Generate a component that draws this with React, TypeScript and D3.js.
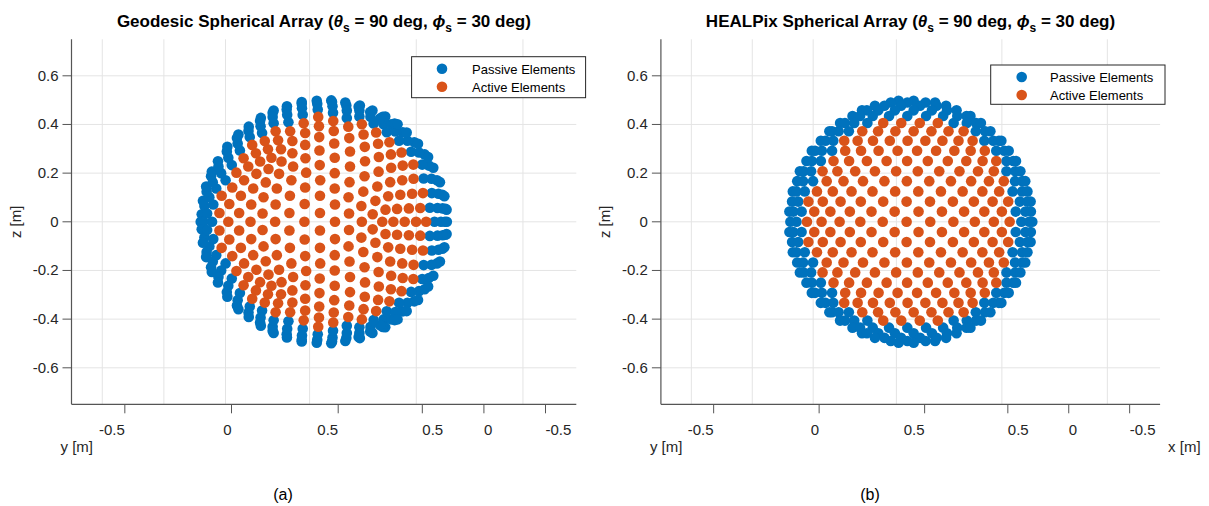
import * as d3 from 'd3'

// axis setup (MATLAB 3-D view, azimuth 30 deg along phi_s, elevation 0)
const zTicks = [-0.6, -0.4, -0.2, 0, 0.2, 0.4, 0.6]
const yTicks = [-0.5, 0, 0.5]
const xTicks = [-0.5, 0, 0.5]
const axisLimit = 0.75
const viewAzimuthDeg = 30

// HEALPix rings: z [m], then projected horizontal offsets [m] of the visible elements
const healpixRingZ = [
  0.497, 0.49, 0.477, 0.458, 0.435, 0.406, 0.372, 0.333, 0.292, 0.25, 0.208, 0.167, 0.125, 0.083, 0.042, 0,
  -0.042, -0.083, -0.125, -0.167, -0.208, -0.25, -0.292, -0.333, -0.372, -0.406, -0.435, -0.458, -0.477, -0.49, -0.497,
]
const healpixActiveH = [
  [], [], [], [], [],
  [-0.112, -0.038, 0.038, 0.112],
  [-0.198, -0.133, -0.062, 0.013, 0.086, 0.156, 0.218],
  [-0.272, -0.217, -0.154, -0.085, -0.012, 0.061, 0.131, 0.197, 0.255],
  [-0.268, -0.203, -0.131, -0.053, 0.027, 0.105, 0.18, 0.247, 0.305],
  [-0.316, -0.252, -0.179, -0.098, -0.014, 0.071, 0.153, 0.229, 0.296, 0.352],
  [-0.361, -0.3, -0.227, -0.146, -0.059, 0.03, 0.118, 0.201, 0.277, 0.342],
  [-0.344, -0.275, -0.195, -0.107, -0.015, 0.077, 0.166, 0.249, 0.322, 0.383],
  [-0.384, -0.319, -0.242, -0.156, -0.063, 0.032, 0.125, 0.214, 0.295, 0.364],
  [-0.419, -0.36, -0.287, -0.204, -0.112, -0.016, 0.08, 0.174, 0.26, 0.337, 0.401],
  [-0.395, -0.329, -0.249, -0.16, -0.065, 0.033, 0.129, 0.22, 0.303, 0.375],
  [-0.425, -0.365, -0.291, -0.206, -0.114, -0.016, 0.081, 0.176, 0.264, 0.342, 0.407],
  [-0.395, -0.329, -0.249, -0.16, -0.065, 0.033, 0.129, 0.22, 0.303, 0.375],
  [-0.419, -0.36, -0.287, -0.204, -0.112, -0.016, 0.08, 0.174, 0.26, 0.337, 0.401],
  [-0.384, -0.319, -0.242, -0.156, -0.063, 0.032, 0.125, 0.214, 0.295, 0.364],
  [-0.344, -0.275, -0.195, -0.107, -0.015, 0.077, 0.166, 0.249, 0.322, 0.383],
  [-0.361, -0.3, -0.227, -0.146, -0.059, 0.03, 0.118, 0.201, 0.277, 0.342],
  [-0.316, -0.252, -0.179, -0.098, -0.014, 0.071, 0.153, 0.229, 0.296, 0.352],
  [-0.268, -0.203, -0.131, -0.053, 0.027, 0.105, 0.18, 0.247, 0.305],
  [-0.272, -0.217, -0.154, -0.085, -0.012, 0.061, 0.131, 0.197, 0.255],
  [-0.198, -0.133, -0.062, 0.013, 0.086, 0.156, 0.218],
  [-0.112, -0.038, 0.038, 0.112],
  [], [], [], [], [],
]
const healpixPassiveH = [
  [-0.049, 0.013],
  [-0.081, -0.013, 0.062, 0.101],
  [-0.146, -0.107, -0.039, 0.039, 0.107, 0.146],
  [-0.199, -0.179, -0.132, -0.064, 0.013, 0.088, 0.15, 0.189],
  [-0.238, -0.207, -0.155, -0.088, -0.013, 0.064, 0.134, 0.192, 0.23, 0.246],
  [-0.289, -0.269, -0.231, -0.177, 0.177, 0.231, 0.269, 0.289],
  [-0.333, -0.322, -0.295, -0.253, 0.268, 0.306, 0.328],
  [-0.368, -0.349, -0.317, 0.303, 0.34, 0.363, 0.373],
  [-0.405, -0.392, -0.364, -0.322, 0.352, 0.385, 0.403],
  [-0.427, -0.405, -0.368, 0.394, 0.422, 0.433],
  [-0.454, -0.439, -0.408, 0.394, 0.43, 0.451],
  [-0.465, -0.441, -0.4, 0.429, 0.459, 0.471],
  [-0.483, -0.468, -0.434, 0.419, 0.458, 0.48],
  [-0.486, -0.461, 0.449, 0.48, 0.493],
  [-0.497, -0.481, -0.447, 0.432, 0.472, 0.494],
  [-0.493, -0.468, 0.455, 0.487, 0.5],
  [-0.497, -0.481, -0.447, 0.432, 0.472, 0.494],
  [-0.486, -0.461, 0.449, 0.48, 0.493],
  [-0.483, -0.468, -0.434, 0.419, 0.458, 0.48],
  [-0.465, -0.441, -0.4, 0.429, 0.459, 0.471],
  [-0.454, -0.439, -0.408, 0.394, 0.43, 0.451],
  [-0.427, -0.405, -0.368, 0.394, 0.422, 0.433],
  [-0.405, -0.392, -0.364, -0.322, 0.352, 0.385, 0.403],
  [-0.368, -0.349, -0.317, 0.303, 0.34, 0.363, 0.373],
  [-0.333, -0.322, -0.295, -0.253, 0.268, 0.306, 0.328],
  [-0.289, -0.269, -0.231, -0.177, 0.177, 0.231, 0.269, 0.289],
  [-0.238, -0.207, -0.155, -0.088, -0.013, 0.064, 0.134, 0.192, 0.23, 0.246],
  [-0.199, -0.179, -0.132, -0.064, 0.013, 0.088, 0.15, 0.189],
  [-0.146, -0.107, -0.039, 0.039, 0.107, 0.146],
  [-0.081, -0.013, 0.062, 0.101],
  [-0.049, 0.013],
]

// geodesic array: visible elements as [h, z] in metres (h = horizontal offset in the view plane)
const geodesicActive: [number, number][] = [
  // upper half
  [0.266, 0.327], [0.272, 0.277], [0.273, 0.222], [0.269, 0.163], [0.261, 0.105], [0.25, 0.05],
  [0.038, 0.414], [-0.02, 0.393], [-0.076, 0.365], [-0.128, 0.332], [-0.174, 0.298],
  [-0.172, 0.248], [-0.125, 0.227], [-0.072, 0.202], [-0.015, 0.171], [0.044, 0.137], [0.1, 0.101], [0.152, 0.065], [0.198, 0.031],
  [-0.355, 0.202], [-0.307, 0.227], [-0.259, 0.248], [-0.227, 0.298], [-0.24, 0.332],
  [-0.225, 0.217], [-0.236, 0.162], [-0.245, 0.101], [-0.249, 0.034], [-0.213, 0.263],
  [0.402, 0.118], [0.391, 0.057], [0.363, 0.235], [0.364, 0.177], [0.358, 0.115], [0.345, 0.055],
  [0.315, 0.285], [0.32, 0.231], [0.318, 0.171], [0.31, 0.111], [0.297, 0.053],
  [0.209, 0.086], [0.217, 0.145], [0.16, 0.124], [0.222, 0.206], [0.165, 0.187], [0.104, 0.163], [0.223, 0.266],
  [0.167, 0.249], [0.106, 0.227], [0.044, 0.2], [0.22, 0.321], [0.166, 0.308], [0.106, 0.289], [0.044, 0.263],
  [-0.017, 0.233], [0.212, 0.367], [0.161, 0.359], [0.103, 0.344], [0.042, 0.322], [-0.018, 0.293], [-0.075, 0.261],
  [0.154, 0.401], [0.099, 0.391], [0.04, 0.373], [-0.019, 0.348], [-0.076, 0.316], [-0.128, 0.282],
  [-0.196, 0.372], [-0.186, 0.335], [-0.137, 0.372], [-0.082, 0.405], [-0.023, 0.431],
  [-0.326, 0.261], [-0.276, 0.282], [-0.291, 0.316],
  [-0.182, 0.197], [-0.191, 0.137], [-0.132, 0.171], [-0.196, 0.071], [-0.138, 0.107], [-0.076, 0.141],
  [-0.14, 0.036], [-0.078, 0.073], [-0.016, 0.107], [-0.016, 0.036], [0.045, 0.071], [0.102, 0.034],
  [-0.415, 0.107], [-0.424, 0.036], [-0.372, 0.141], [-0.384, 0.073], [-0.324, 0.171], [-0.337, 0.107],
  [-0.344, 0.036], [-0.274, 0.197], [-0.287, 0.137], [-0.295, 0.071],
  // equator
  [0.237, 0], [0.282, 0], [0.328, 0], [0.374, 0], [0.415, 0], [-0.198, 0], [-0.079, 0], [0.045, 0], [0.154, 0],
  [-0.388, 0], [-0.298, 0],
  // lower half
  [0.266, -0.327], [0.272, -0.277], [0.273, -0.222], [0.269, -0.163], [0.261, -0.105], [0.25, -0.05],
  [0.038, -0.414], [-0.02, -0.393], [-0.076, -0.365], [-0.128, -0.332], [-0.174, -0.298],
  [-0.172, -0.248], [-0.125, -0.227], [-0.072, -0.202], [-0.015, -0.171], [0.044, -0.137], [0.1, -0.101], [0.152, -0.065], [0.198, -0.031],
  [-0.355, -0.202], [-0.307, -0.227], [-0.259, -0.248], [-0.227, -0.298], [-0.24, -0.332],
  [-0.225, -0.217], [-0.236, -0.162], [-0.245, -0.101], [-0.249, -0.034], [-0.213, -0.263],
  [0.402, -0.118], [0.391, -0.057], [0.363, -0.235], [0.364, -0.177], [0.358, -0.115], [0.345, -0.055],
  [0.315, -0.285], [0.32, -0.231], [0.318, -0.171], [0.31, -0.111], [0.297, -0.053],
  [0.209, -0.086], [0.217, -0.145], [0.16, -0.124], [0.222, -0.206], [0.165, -0.187], [0.104, -0.163], [0.223, -0.266],
  [0.167, -0.249], [0.106, -0.227], [0.044, -0.2], [0.22, -0.321], [0.166, -0.308], [0.106, -0.289], [0.044, -0.263],
  [-0.017, -0.233], [0.212, -0.367], [0.161, -0.359], [0.103, -0.344], [0.042, -0.322], [-0.018, -0.293], [-0.075, -0.261],
  [0.154, -0.401], [0.099, -0.391], [0.04, -0.373], [-0.019, -0.348], [-0.076, -0.316], [-0.128, -0.282],
  [-0.196, -0.372], [-0.186, -0.335], [-0.137, -0.372], [-0.082, -0.405], [-0.023, -0.431],
  [-0.326, -0.261], [-0.276, -0.282], [-0.291, -0.316],
  [-0.182, -0.197], [-0.191, -0.137], [-0.132, -0.171], [-0.196, -0.071], [-0.138, -0.107], [-0.076, -0.141],
  [-0.14, -0.036], [-0.078, -0.073], [-0.016, -0.107], [-0.016, -0.036], [0.045, -0.071], [0.102, -0.034],
  [-0.415, -0.107], [-0.424, -0.036], [-0.372, -0.141], [-0.384, -0.073], [-0.324, -0.171], [-0.337, -0.107],
  [-0.344, -0.036], [-0.274, -0.197], [-0.287, -0.137], [-0.295, -0.071],
]
const geodesicPassive: [number, number][] = [
  // upper half
  [0.242, 0.401], [0.255, 0.368], [0.189, 0.432], [0.144, 0.433], [0.093, 0.427],
  [0.273, 0.401], [0.32, 0.368], [0.367, 0.327], [0.409, 0.277], [0.444, 0.222], [0.471, 0.163], [0.489, 0.105], [0.498, 0.05],
  [0.03, 0.499], [0.087, 0.49], [0.141, 0.473], [0.188, 0.451], [0.249, 0.433], [0.239, 0.432],
  [-0.496, 0.031], [-0.485, 0.065], [-0.465, 0.101], [-0.437, 0.137], [-0.399, 0.171],
  [-0.251, 0.365], [-0.257, 0.393], [-0.259, 0.414], [-0.256, 0.427], [0.228, 0.425],
  [0.494, 0.053], [0.481, 0.111], [0.482, 0.055], [0.459, 0.171], [0.465, 0.115], [0.461, 0.057], [0.426, 0.231],
  [0.437, 0.177], [0.438, 0.118], [0.43, 0.058], [0.386, 0.285], [0.399, 0.235], [0.405, 0.178], [0.339, 0.333],
  [0.354, 0.288], [0.29, 0.371], [0.305, 0.333], [0.202, 0.404],
  [-0.204, 0.457], [-0.208, 0.448], [-0.15, 0.475], [-0.09, 0.492], [-0.208, 0.431], [-0.151, 0.462], [-0.09, 0.485],
  [-0.029, 0.497], [-0.204, 0.405], [-0.149, 0.44], [-0.089, 0.467], [-0.027, 0.485], [0.033, 0.492], [-0.144, 0.409],
  [-0.086, 0.44], [-0.025, 0.462], [0.035, 0.475], [0.091, 0.478], [0.037, 0.448], [0.093, 0.457], [0.144, 0.457],
  [0.287, 0.404], [0.336, 0.367], [0.382, 0.321], [0.423, 0.266], [0.299, 0.401], [0.197, 0.457], [0.146, 0.478],
  [-0.491, 0.086], [-0.476, 0.124], [-0.478, 0.145], [-0.451, 0.163], [-0.458, 0.187], [-0.455, 0.206], [-0.417, 0.2],
  [-0.428, 0.227], [-0.43, 0.249], [-0.374, 0.233], [-0.388, 0.263], [-0.394, 0.289], [-0.392, 0.308], [-0.341, 0.293],
  [-0.35, 0.322], [-0.353, 0.344], [-0.347, 0.359], [-0.301, 0.348], [-0.306, 0.373], [-0.305, 0.391],
  [-0.474, 0.034], [-0.449, 0.071],
  // equator
  [-0.5, 0], [0.449, 0], [0.475, 0], [0.491, 0], [0.499, 0], [-0.489, 0], [-0.454, 0],
  // lower half
  [0.242, -0.401], [0.255, -0.368], [0.189, -0.432], [0.144, -0.433], [0.093, -0.427],
  [0.273, -0.401], [0.32, -0.368], [0.367, -0.327], [0.409, -0.277], [0.444, -0.222], [0.471, -0.163], [0.489, -0.105], [0.498, -0.05],
  [0.03, -0.499], [0.087, -0.49], [0.141, -0.473], [0.188, -0.451], [0.249, -0.433], [0.239, -0.432],
  [-0.496, -0.031], [-0.485, -0.065], [-0.465, -0.101], [-0.437, -0.137], [-0.399, -0.171],
  [-0.251, -0.365], [-0.257, -0.393], [-0.259, -0.414], [-0.256, -0.427], [0.228, -0.425],
  [0.494, -0.053], [0.481, -0.111], [0.482, -0.055], [0.459, -0.171], [0.465, -0.115], [0.461, -0.057], [0.426, -0.231],
  [0.437, -0.177], [0.438, -0.118], [0.43, -0.058], [0.386, -0.285], [0.399, -0.235], [0.405, -0.178], [0.339, -0.333],
  [0.354, -0.288], [0.29, -0.371], [0.305, -0.333], [0.202, -0.404],
  [-0.204, -0.457], [-0.208, -0.448], [-0.15, -0.475], [-0.09, -0.492], [-0.208, -0.431], [-0.151, -0.462], [-0.09, -0.485],
  [-0.029, -0.497], [-0.204, -0.405], [-0.149, -0.44], [-0.089, -0.467], [-0.027, -0.485], [0.033, -0.492], [-0.144, -0.409],
  [-0.086, -0.44], [-0.025, -0.462], [0.035, -0.475], [0.091, -0.478], [0.037, -0.448], [0.093, -0.457], [0.144, -0.457],
  [0.287, -0.404], [0.336, -0.367], [0.382, -0.321], [0.423, -0.266], [0.299, -0.401], [0.197, -0.457], [0.146, -0.478],
  [-0.491, -0.086], [-0.476, -0.124], [-0.478, -0.145], [-0.451, -0.163], [-0.458, -0.187], [-0.455, -0.206], [-0.417, -0.2],
  [-0.428, -0.227], [-0.43, -0.249], [-0.374, -0.233], [-0.388, -0.263], [-0.394, -0.289], [-0.392, -0.308], [-0.341, -0.293],
  [-0.35, -0.322], [-0.353, -0.344], [-0.347, -0.359], [-0.301, -0.348], [-0.306, -0.373], [-0.305, -0.391],
  [-0.474, -0.034], [-0.449, -0.071],
]

const legendLabels = ['Passive Elements', 'Active Elements']
const BLUE = '#0072BD'
const ORANGE = '#D95319'
const FONT = '"Liberation Sans", Arial, Helvetica, sans-serif'
const TXT = '#262626'

const ringsToPoints = (rows: number[][]) =>
  rows.flatMap((hs, i) => hs.map((h) => [h, healpixRingZ[i]] as [number, number]))

function Title({ cx, name }: { cx: number; name: string }) {
  return (
    <text x={cx} y={27} textAnchor="middle" fontWeight="bold" fontSize={17} fill="#000">
      {name} Spherical Array (<tspan fontStyle="italic">θ</tspan>
      <tspan fontSize={12} dy={5}>s</tspan>
      <tspan dy={-5}> = 90 deg, </tspan>
      <tspan fontStyle="italic">ϕ</tspan>
      <tspan fontSize={12} dy={5}>s</tspan>
      <tspan dy={-5}> = 30 deg)</tspan>
    </text>
  )
}

type PanelProps = {
  left: number
  right: number
  name: string
  active: [number, number][]
  passive: [number, number][]
  legend: { x: number; y: number; w: number; h: number; dotX: number; textX: number }
  xLabel: boolean
  caption: string
  captionX: number
}

function Panel({ left, right, name, active, passive, legend, xLabel, caption, captionX }: PanelProps) {
  const a = (viewAzimuthDeg * Math.PI) / 180
  const sinA = Math.sin(a)
  const cosA = Math.cos(a)
  const hExt = axisLimit * (sinA + cosA)
  const hScale = d3.scaleLinear().domain([-hExt, hExt]).range([left, right])
  const zScale = d3.scaleLinear().domain([-axisLimit, axisLimit]).range([404.3, 39.3])
  const proj = (x: number, y: number) => hScale(-sinA * x + cosA * y)
  const top = zScale(axisLimit)
  const bottom = zScale(-axisLimit)

  const gridX = [
    ...xTicks.map((t) => proj(t, -axisLimit)),
    ...yTicks.map((t) => proj(-axisLimit, t)),
  ]

  return (
    <g fontFamily={FONT}>
      <Title cx={(left + right) / 2} name={name} />
      {gridX.map((gx, i) => (
        <line key={'gx' + i} x1={gx} x2={gx} y1={top} y2={bottom} stroke="#e4e4e4" />
      ))}
      {zTicks.map((t) => (
        <line key={'gz' + t} x1={left} x2={right} y1={zScale(t)} y2={zScale(t)} stroke="#e4e4e4" />
      ))}
      <line x1={left} x2={left} y1={top} y2={bottom} stroke="#555" strokeWidth={1.2} />
      <line x1={left} x2={right} y1={bottom} y2={bottom} stroke="#555" strokeWidth={1.2} />
      {zTicks.map((t) => (
        <g key={'zt' + t}>
          <line x1={left - 9} x2={left} y1={zScale(t)} y2={zScale(t)} stroke="#555" />
          <text x={left - 13} y={zScale(t) + 5} textAnchor="end" fontSize={15} fill={TXT}>
            {t}
          </text>
        </g>
      ))}
      {yTicks.map((t) => (
        <g key={'yt' + t}>
          <line x1={proj(axisLimit, t)} x2={proj(axisLimit, t)} y1={bottom} y2={bottom + 9} stroke="#555" />
          <text x={proj(axisLimit, t)} y={435} textAnchor="end" fontSize={15} fill={TXT}>
            {t}
          </text>
        </g>
      ))}
      {xTicks.map((t) => (
        <g key={'xt' + t}>
          <line x1={proj(t, axisLimit)} x2={proj(t, axisLimit)} y1={bottom} y2={bottom + 9} stroke="#555" />
          <text x={proj(t, axisLimit)} y={435} textAnchor="start" fontSize={15} fill={TXT}>
            {t}
          </text>
        </g>
      ))}
      <text
        transform={`translate(${left - 51},${zScale(0)}) rotate(-90)`}
        textAnchor="middle"
        fontSize={15}
        fill={TXT}
      >
        z [m]
      </text>
      <text x={left - 11} y={452} fontSize={15} fill={TXT}>
        y [m]
      </text>
      {xLabel && (
        <text x={right + 8} y={452} fontSize={15} fill={TXT}>
          x [m]
        </text>
      )}
      {passive.map(([h, z], i) => (
        <circle key={'p' + i} cx={hScale(h)} cy={zScale(z)} r={5.3} fill={BLUE} />
      ))}
      {active.map(([h, z], i) => (
        <circle key={'a' + i} cx={hScale(h)} cy={zScale(z)} r={5.3} fill={ORANGE} />
      ))}
      <rect x={legend.x} y={legend.y} width={legend.w} height={legend.h} fill="#fff" stroke="#262626" />
      {legendLabels.map((lab, i) => (
        <g key={lab}>
          <circle cx={legend.dotX} cy={legend.y + 12 + i * 18} r={5.3} fill={i === 0 ? BLUE : ORANGE} />
          <text x={legend.textX} y={legend.y + 17 + i * 18} fontSize={13} fill="#000">
            {lab}
          </text>
        </g>
      ))}
      <text x={captionX} y={500} textAnchor="middle" fontSize={16} fill="#000">
        {caption}
      </text>
    </g>
  )
}

export default function App() {
  return (
    <svg width={1209} height={506} style={{ position: 'absolute', left: 0, top: 0, background: '#fff' }}>
      <rect width={1209} height={506} fill="#fff" />
      <Panel
        left={71.5}
        right={576.3}
        name="Geodesic"
        active={geodesicActive}
        passive={geodesicPassive}
        legend={{ x: 411.6, y: 56.7, w: 174, h: 41, dotX: 442, textX: 472 }}
        xLabel={false}
        caption="(a)"
        captionX={283}
      />
      <Panel
        left={660.9}
        right={1160.1}
        name="HEALPix"
        active={ringsToPoints(healpixActiveH)}
        passive={ringsToPoints(healpixPassiveH)}
        legend={{ x: 990.7, y: 65, w: 174.3, h: 39.3, dotX: 1021.7, textX: 1050 }}
        xLabel={true}
        caption="(b)"
        captionX={870}
      />
    </svg>
  )
}
